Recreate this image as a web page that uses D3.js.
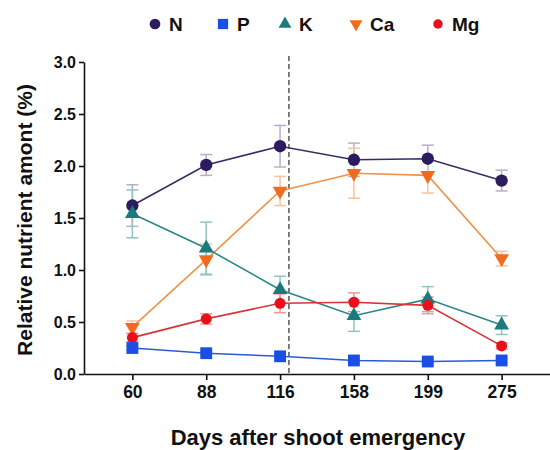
<!DOCTYPE html>
<html><head><meta charset="utf-8">
<script src="https://cdn.jsdelivr.net/npm/d3@7"></script>
<style>
body{margin:0;background:#fff;}
svg text{font-family:Arial,"Liberation Sans",sans-serif;font-weight:bold;fill:#111;}
</style></head>
<body><svg id="c" width="550" height="450"></svg>
<script>
const days = ["60","88","116","158","199","275"];
const seriesNames = ["N","P","K","Ca","Mg"];
const N  = [1.62, 2.01, 2.19, 2.06, 2.07, 1.86];
const N_err  = [0.20, 0.10, 0.20, 0.16, 0.13, 0.10];
const P  = [0.25, 0.20, 0.17, 0.13, 0.12, 0.13];
const P_err  = [0.02, 0.02, 0.02, 0.02, 0.02, 0.02];
const K  = [1.54, 1.21, 0.81, 0.56, 0.72, 0.47];
const K_err  = [0.23, 0.25, 0.13, 0.15, 0.12, 0.09];
const Ca = [0.45, 1.10, 1.76, 1.93, 1.91, 1.11];
const Ca_err = [0.06, 0.15, 0.14, 0.24, 0.17, 0.07];
const Mg = [0.35, 0.53, 0.68, 0.69, 0.66, 0.27];
const Mg_err = [0.04, 0.05, 0.09, 0.09, 0.08, 0.03];
const yTicks = [0.0, 0.5, 1.0, 1.5, 2.0, 2.5, 3.0];
const dividerIndex = 2.12; // between 116 and 158

const markerColor = {N:"#2c1b5e",P:"#1a4fe6",K:"#1b7b7c",Ca:"#f26b1d",Mg:"#e8111b"};
const lineColor   = {N:"#3a2c66",P:"#2a5bd7",K:"#2a8788",Ca:"#f0924a",Mg:"#d8323a"};
const errColor    = {N:"#b7aecb",P:"#9ab5ee",K:"#93c2c2",Ca:"#f5c4a0",Mg:"#f0969a"};
const symbolType  = {N:d3.symbolCircle,P:d3.symbolSquare,K:d3.symbolTriangle,Ca:d3.symbolTriangle,Mg:d3.symbolCircle};
const symbolSize  = {N:120,P:140,K:95,Ca:95,Mg:95};

const vals = {N,P,K,Ca,Mg};
const errs = {N:N_err,P:P_err,K:K_err,Ca:Ca_err,Mg:Mg_err};

const svg = d3.select("#c");
const x = d3.scalePoint().domain(days).range([84, 550]).padding(0.655);
const y = d3.scaleLinear().domain([0, 3]).range([374, 62]);

// axes
const yAxis = svg.append("g").attr("transform","translate(84,0)")
  .call(d3.axisLeft(y).tickValues(yTicks).tickFormat(d3.format(".1f")).tickSize(5).tickSizeOuter(0).tickPadding(3));
const xAxis = svg.append("g").attr("transform","translate(0,374)")
  .call(d3.axisBottom(x).tickSize(6).tickSizeOuter(0).tickPadding(6));
[yAxis,xAxis].forEach(a=>{
  a.selectAll("path,line").attr("stroke","#111").attr("stroke-width",1.6);
});
yAxis.selectAll("text").style("font-size","16px");
xAxis.selectAll("text").style("font-size","17.5px");

// divider
const step = x.step();
const dx = x(days[0]) + dividerIndex*step;
svg.append("line").attr("x1",dx).attr("x2",dx).attr("y1",56).attr("y2",y(0))
  .attr("stroke","#555").attr("stroke-width",1.5).attr("stroke-dasharray","5,3");

// error bars
const order = ["N","Ca","K","Mg","P"];
order.forEach(s=>{
  const g = svg.append("g");
  days.forEach((d,i)=>{
    const v = vals[s][i], e = errs[s][i], cx = x(d);
    g.append("line").attr("x1",cx).attr("x2",cx).attr("y1",y(v+e)).attr("y2",y(v-e))
      .attr("stroke",errColor[s]).attr("stroke-width",1.5);
    [v+e, v-e].forEach(t=>{
      g.append("line").attr("x1",cx-6).attr("x2",cx+6).attr("y1",y(t)).attr("y2",y(t))
        .attr("stroke",errColor[s]).attr("stroke-width",1.5);
    });
  });
});
// lines
order.forEach(s=>{
  svg.append("path").datum(vals[s])
    .attr("d", d3.line().x((v,i)=>x(days[i])).y(v=>y(v)))
    .attr("fill","none").attr("stroke",lineColor[s]).attr("stroke-width",1.6);
});
// markers
function marker(g, s, cx, cy, scale){
  let sym = d3.symbol().type(symbolType[s]).size(symbolSize[s]*(scale||1));
  let p = g.append("path").attr("d", sym()).attr("fill", markerColor[s]);
  if (s==="Ca") p.attr("transform",`translate(${cx},${cy}) rotate(180)`);
  else p.attr("transform",`translate(${cx},${cy})`);
}
order.forEach(s=>{
  const g = svg.append("g");
  vals[s].forEach((v,i)=>marker(g, s, x(days[i]), y(v)));
});

// legend
const legX = {N:155,P:223,K:285,Ca:356,Mg:438};
seriesNames.forEach(s=>{
  const g = svg.append("g");
  marker(g, s, legX[s], 24, 0.75);
  g.append("text").attr("x",legX[s]+14).attr("y",31).style("font-size","19px").text(s);
});

// axis titles
svg.append("text").attr("x",318).attr("y",445).attr("text-anchor","middle")
  .style("font-size","22px").text("Days after shoot emergency");
svg.append("text").attr("transform","translate(32,220) rotate(-90)").attr("text-anchor","middle")
  .style("font-size","21px").text("Relative nutrient amont (%)");
</script></body></html>
